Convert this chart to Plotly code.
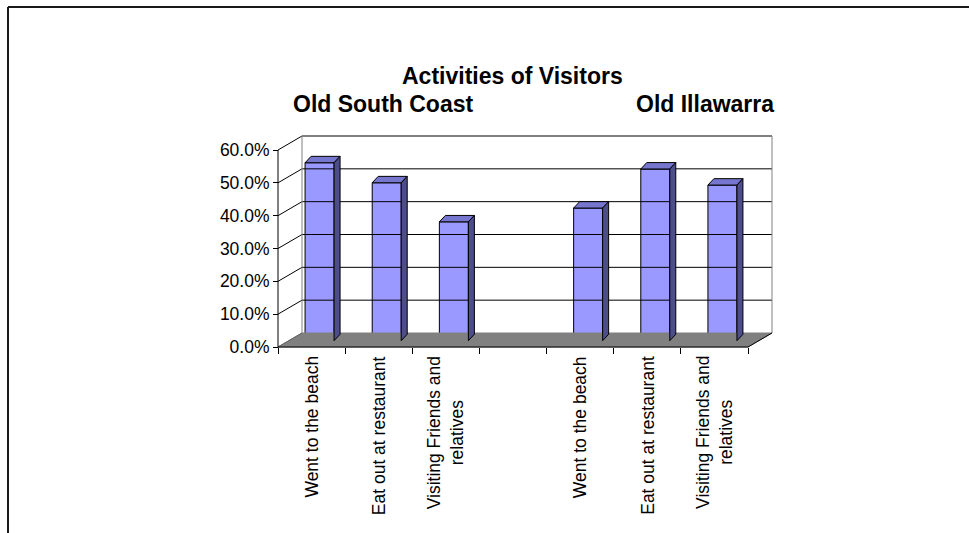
import plotly.graph_objects as go

# ---------------- data ----------------
title_main = "Activities of Visitors"
regions = ["Old South Coast", "Old Illawarra"]
activities = ["Went to the beach", "Eat out at restaurant", "Visiting Friends and<br>relatives"]
south_coast = [54.2, 48.1, 36.2]
illawarra = [40.4, 52.3, 47.4]
y_ticks = [0, 10, 20, 30, 40, 50, 60]
y_labels = ["%.1f%%" % v for v in y_ticks]

categories = activities + [""] + activities
values = south_coast + [None] + illawarra
n = len(categories)

# ---------------- geometry (pixels) ----------------
W, H = 969, 533
AX_L, AX_R = 278, 748          # front x-axis extent
AX_B, AX_T = 347, 150          # front y-axis extent (0 .. max)
WALL_DX, WALL_DY = 24, 14      # depth of the 3D box
PAD = 4
BAR_OFF_X, BAR_OFF_Y = 8, 6.3  # front face of bars within depth
BAR_W = 29
BAR_DX, BAR_DY = 6, 6.4        # depth of bars

ymax = y_ticks[-1]
ux = n / (AX_R - AX_L)
uy = ymax / (AX_B - AX_T)
x0, x1 = -0.5, n - 0.5
wdx, wdy = WALL_DX * ux, WALL_DY * uy

plot_l = AX_L - PAD
plot_r = AX_R + WALL_DX + PAD
plot_t = AX_T - WALL_DY - PAD
plot_b = AX_B + PAD
pw, ph = plot_r - plot_l, plot_b - plot_t


def px(xp):
    return (xp - plot_l) / pw


def py(yp):
    return (plot_b - yp) / ph


FONT = "Liberation Sans, Arial, sans-serif"
fig = go.Figure()

# floor
fig.add_trace(go.Scatter(
    x=[x0, x1, x1 + wdx, x0 + wdx, x0], y=[0, 0, wdy, wdy, 0],
    mode="lines", fill="toself", fillcolor="#808080",
    line=dict(color="#808080", width=1), hoverinfo="skip", showlegend=False))

# back wall gridlines + left wall diagonals
gx, gy = [], []
for v in y_ticks[1:]:
    gx += [x0 + wdx, x1 + wdx, None, x0, x0 + wdx, None]
    gy += [v + wdy, v + wdy, None, v, v + wdy, None]
fig.add_trace(go.Scatter(x=gx, y=gy, mode="lines", line=dict(color="black", width=1),
                         hoverinfo="skip", showlegend=False))
# left wall bottom diagonal
fig.add_trace(go.Scatter(x=[x0, x0 + wdx], y=[0, wdy], mode="lines",
                         line=dict(color="#606060", width=1), hoverinfo="skip", showlegend=False))
# back wall vertical edges (grey)
fig.add_trace(go.Scatter(x=[x0 + wdx, x0 + wdx, None, x1 + wdx, x1 + wdx],
                         y=[wdy, ymax + wdy, None, wdy, ymax + wdy], mode="lines",
                         line=dict(color="#808080", width=1), hoverinfo="skip", showlegend=False))
# front axes lines
fig.add_trace(go.Scatter(x=[x0, x0, None, x0, x1, x1 + wdx],
                         y=[ymax, 0, None, 0, 0, wdy], mode="lines",
                         line=dict(color="black", width=1), hoverinfo="skip", showlegend=False))

# bars
bw = BAR_W * ux
ox, oy = BAR_OFF_X * ux, BAR_OFF_Y * uy
ddx, ddy = BAR_DX * ux, BAR_DY * uy
bx = [i + ox if v is not None else None for i, v in enumerate(values)]
fig.add_trace(go.Bar(x=[b for b in bx if b is not None],
                     y=[v for v in values if v is not None],
                     base=oy, width=bw,
                     marker=dict(color="#9999FF", line=dict(color="black", width=1)),
                     hoverinfo="skip", showlegend=False))
for i, v in enumerate(values):
    if v is None:
        continue
    xl = i + ox - bw / 2
    xr_ = i + ox + bw / 2
    top = oy + v
    fig.add_trace(go.Scatter(
        x=[xl, xr_, xr_ + ddx, xl + ddx, xl],
        y=[top, top, top + ddy, top + ddy, top],
        mode="lines", fill="toself", fillcolor="#7676CF",
        line=dict(color="black", width=1), hoverinfo="skip", showlegend=False))
    fig.add_trace(go.Scatter(
        x=[xr_, xr_ + ddx, xr_ + ddx, xr_, xr_],
        y=[oy, oy + ddy, top + ddy, top, oy],
        mode="lines", fill="toself", fillcolor="#4D4D8C",
        line=dict(color="black", width=1), hoverinfo="skip", showlegend=False))

# category labels
for i, c in enumerate(categories):
    if not c:
        continue
    fig.add_annotation(x=i, y=0, xref="x", yref="y", text=c, showarrow=False,
                       textangle=-90, xanchor="center", yanchor="top", yshift=-7,
                       align="center", font=dict(family=FONT, size=17.5, color="black"))

# titles
fig.add_annotation(x=px(512.5), y=py(76), xref="paper", yref="paper", text="<b>%s</b>" % title_main,
                   showarrow=False, xanchor="center", yanchor="middle",
                   font=dict(family=FONT, size=23, color="black"))
fig.add_annotation(x=px(383.5), y=py(104), xref="paper", yref="paper", text="<b>%s</b>" % regions[0],
                   showarrow=False, xanchor="center", yanchor="middle",
                   font=dict(family=FONT, size=23, color="black"))
fig.add_annotation(x=px(704.5), y=py(104), xref="paper", yref="paper", text="<b>%s</b>" % regions[1],
                   showarrow=False, xanchor="center", yanchor="middle",
                   font=dict(family=FONT, size=23, color="black"))

# chart border (left and top)
fig.add_shape(type="line", xref="paper", yref="paper", x0=px(8), x1=px(8), y0=py(7), y1=py(540),
              line=dict(color="#1a1a1a", width=2))
fig.add_shape(type="line", xref="paper", yref="paper", x0=px(8), x1=px(975), y0=py(7), y1=py(7),
              line=dict(color="#1a1a1a", width=2))

fig.update_layout(
    width=W, height=H,
    margin=dict(l=plot_l, r=W - plot_r, t=plot_t, b=H - plot_b, pad=0),
    paper_bgcolor="white", plot_bgcolor="rgba(0,0,0,0)",
    barmode="overlay", showlegend=False,
    font=dict(family=FONT, color="black"),
    xaxis=dict(range=[x0 - PAD * ux, x1 + wdx + PAD * ux], showgrid=False, zeroline=False,
               showline=False, tickmode="array", tickvals=[x0 + k for k in range(n + 1)],
               showticklabels=False, ticks="outside", ticklen=6, tickcolor="black", tickwidth=1,
               anchor="free", position=PAD / ph, fixedrange=True),
    yaxis=dict(range=[-PAD * uy, ymax + wdy + PAD * uy], showgrid=False, zeroline=False,
               showline=False, tickmode="array", tickvals=y_ticks, ticktext=y_labels,
               ticks="outside", ticklen=5, tickcolor="black", tickwidth=1,
               tickfont=dict(family=FONT, size=17.5, color="black"),
               anchor="free", position=PAD / pw, fixedrange=True),
)

fig.write_html("out.html")
